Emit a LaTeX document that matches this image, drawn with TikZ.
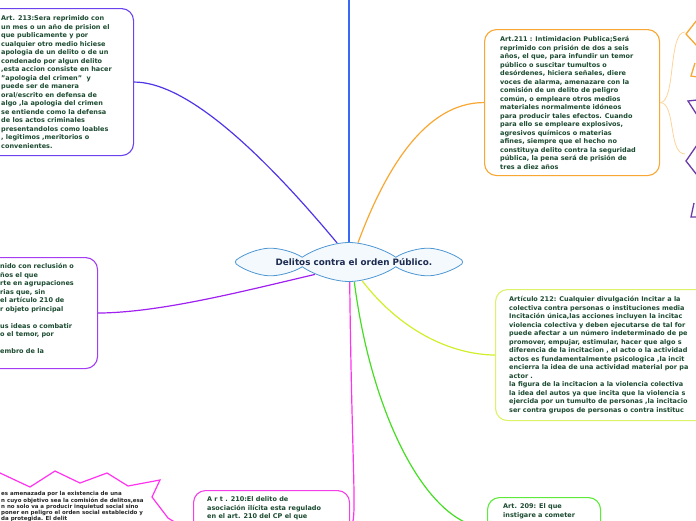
\documentclass[tikz,border=0pt]{standalone}
\usepackage{fontspec}
\setmainfont{DejaVu Sans}
\usepackage{xcolor}
\usetikzlibrary{shapes.symbols,backgrounds}

\definecolor{txtgreen}{HTML}{1B4A30}
\definecolor{rootink}{HTML}{1C2B50}
\definecolor{cloudline}{HTML}{4D97D3}
\definecolor{cloudfill}{HTML}{F4F9FD}
\definecolor{violet213}{HTML}{6A42EE}
\definecolor{violetline}{HTML}{4E36E6}
\definecolor{blueline}{HTML}{3A6AF5}
\definecolor{orange211}{HTML}{F7A732}
\definecolor{bracecol}{HTML}{FCD49A}
\definecolor{lime212}{HTML}{DDF266}
\definecolor{limeline}{HTML}{D2EE2A}
\definecolor{green209}{HTML}{5EEA38}
\definecolor{greenline}{HTML}{44DD22}
\definecolor{magenta210}{HTML}{F23FE8}
\definecolor{purple210}{HTML}{A33CF2}
\definecolor{purpleline}{HTML}{A020F0}
\definecolor{starpink}{HTML}{FF33EE}
\definecolor{starpurple}{HTML}{6A3AA8}

\begin{document}
\begin{tikzpicture}[x=1pt, y=-1pt,
  root/.style={cloud, cloud puffs=8, cloud puff arc=70, cloud ignores aspect,
               draw=cloudline, fill=cloudfill, line width=0.8pt,
               minimum width=227pt, minimum height=39pt, inner sep=0pt,
               font=\bfseries\fontsize{8.8}{10}\selectfont, text=rootink},
  card/.style={draw, rounded corners=12pt, line width=1.1pt, fill=white,
               anchor=north west, inner sep=0pt},
  note/.style={anchor=north west, inner sep=0pt, align=left, text=txtgreen,
               font=\bfseries\fontsize{6.5}{8.5}\selectfont},
  starnote/.style={anchor=north west, inner sep=0pt, align=left, text=black!85,
               font=\bfseries\fontsize{5.5}{6.2}\selectfont},
  link/.style={line width=1.2pt},
  brace/.style={line width=0.8pt, draw=bracecol},
  spike/.style={line width=1.3pt}
]
  \useasboundingbox (0,0) rectangle (696,520);

  \node[root] (Root) at (349,262) {\hspace{10pt}Delitos contra el orden Público.};

  \node[card, draw=violet213, minimum width=147pt, minimum height=147pt] (Art213) at (-14,8) {};
  \node[note] (Art213Txt) at (1,15.5) {Art. 213:Sera reprimido con\\un mes o un año de prision el\\que publicamente y por\\cualquier otro medio hiciese\\apologia de un delito o de un\\condenado por algun delito\\,esta accion consiste en hacer\\"apologia del crimen"\ \ y\\puede ser de manera\\oral/escrito en defensa de\\algo ,la apologia del crimen\\se entiende como la defensa\\de los actos criminales\\presentandolos como loables\\, legitimos ,meritorios o\\convenientes.};

  \node[card, draw=orange211, minimum width=175pt, minimum height=146pt] (Art211) at (484,29) {};
  \node[note] (Art211Txt) at (500,36.5) {Art.211 : Intimidacion Publica;Será\\reprimido con prisión de dos a seis\\años, el que, para infundir un temor\\público o suscitar tumultos o\\desórdenes, hiciera señales, diere\\voces de alarma, amenazare con la\\comisión de un delito de peligro\\común, o empleare otros medios\\materiales normalmente idóneos\\para producir tales efectos. Cuando\\para ello se empleare explosivos,\\agresivos químicos o materias\\afines, siempre que el hecho no\\constituya delito contra la seguridad\\pública, la pena será de prisión de\\tres a diez años};

  \node[card, draw=lime212, minimum width=240pt, minimum height=131pt] (Art212) at (495,289) {};
  \node[note] (Art212Txt) at (509,296.5) {Artículo 212: Cualquier divulgación Incitar a la\\colectiva contra personas o instituciones media\\Incitación única,las acciones incluyen la incitac\\violencia colectiva y deben ejecutarse de tal for\\puede afectar a un número indeterminado de pe\\promover, empujar, estimular, hacer que algo s\\diferencia de la incitacion , el acto o la actividad\\actos es fundamentalmente psicologica ,la incit\\encierra la idea de una actividad material por pa\\actor .\\la figura de la incitacion a la violencia colectiva\\la idea del autos ya que incita que la violencia s\\ejercida por un tumulto de personas ,la incitacio\\ser contra grupos de personas o contra instituc};

  \node[card, draw=purple210, minimum width=117pt, minimum height=111pt] (Agrup) at (-20,257) {};
  \node[note] (AgrupTxt) at (0,263.5) {nido con reclusión o\\ños el que\\rte en agrupaciones\\rias que, sin\\el artículo 210 de\\r objeto principal\\[8.5pt]us ideas o combatir\\ o el temor, por\\[8.5pt]embro de la};

  \node[card, draw=magenta210, minimum width=156pt, minimum height=70pt] (Art210) at (193,490) {};
  \node[note] (Art210Txt) at (207,496.5) {A r t . 210:El delito de\\asociación ilícita esta regulado\\en el art. 210 del CP el que};

  \node[card, draw=green209, minimum width=113pt, minimum height=60pt] (Art209) at (487,497) {};
  \node[note] (Art209Txt) at (503,503.5) {Art. 209: El que\\instigare a cometer};

  \draw[starpink, line width=1.2pt] (-10,468) -- (0,473) -- (30,487) -- (55,471) -- (80,483)
    -- (107,473) -- (128,486) -- (160,480) -- (152,497) -- (168,518) -- (178,524);
  \node[starnote] (Nota) at (1,491.5) {es amenazada por la existencia de una\\n cuyo objetivo sea la comisión de delitos,esa\\n no solo va a producir inquietud social sino\\poner en peligro el orden social establecido y\\da protegida. El delit};

  \coordinate (Top) at (349,-4);
  \coordinate (Star1) at (685,32);
  \coordinate (Star2) at (685,154);

  \begin{pgfonlayer}{background}
    \draw[link, blueline] (Root.center) -- (Top);
    \draw[link, violetline] (Art213.east) .. controls (180,82) and (248,136) .. (Root.122);
    \draw[link, orange211] (Root.65) .. controls (385,170) and (425,102.5) .. (Art211.west);
    \draw[link, limeline] (Root.-55) .. controls (400,330) and (450,354.5) .. (Art212.west);
    \draw[link, greenline] (Root.-75) .. controls (372,420) and (430,527) .. (Art209.west);
    \draw[link, starpink] (Root.-88) .. controls (352,480) and (358,525) .. (Art210.east);
    \draw[link, purpleline] (Root.200) .. controls (240,292) and (160,312.5) .. (Agrup.east);
  \end{pgfonlayer}
  \draw[brace] (Art211.east) .. controls (676,102.5) and (668,32) .. (Star1);
  \draw[brace] (Art211.east) .. controls (676,102.5) and (668,154) .. (Star2);

  \draw[spike, orange211] (697,20) -- (686,34) -- (697,46);
  \draw[spike, orange211] (695,63) -- (691,76) -- (697,77);
  \draw[spike, starpurple] (697,100) -- (688,101) -- (697,115);
  \draw[spike, starpurple] (697,145) -- (686,161) -- (697,175);
  \draw[spike, starpurple] (694,203) -- (691,217) -- (697,217);
\end{tikzpicture}
\end{document}
